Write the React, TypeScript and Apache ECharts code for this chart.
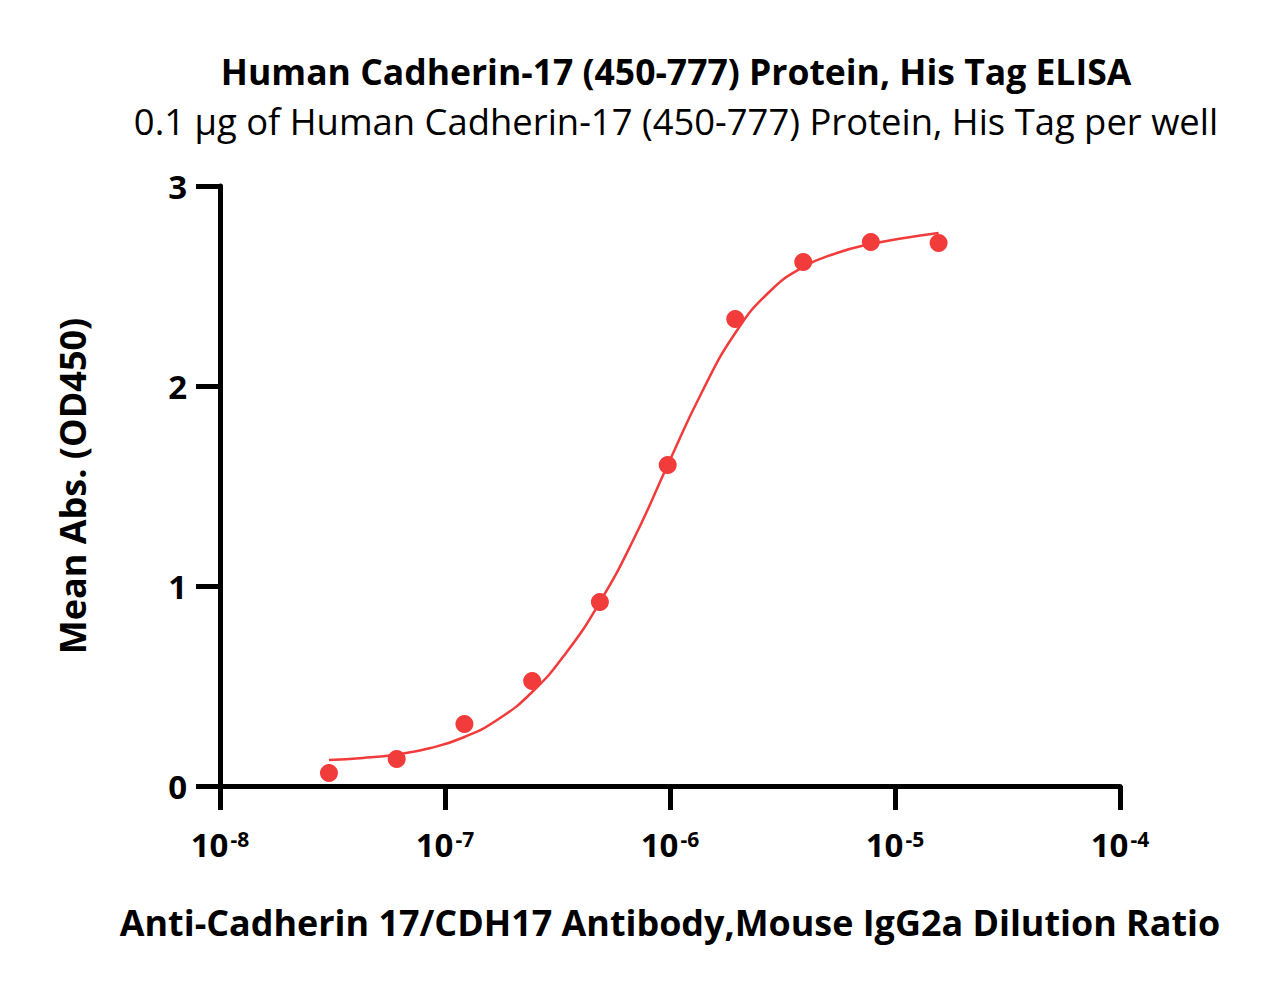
import React, { useEffect, useRef } from "react";
import * as echarts from "echarts";

// Dilution ratios of the antibody (two-fold series)
const dilutions = [3.05e-8, 6.1e-8, 1.22e-7, 2.44e-7, 4.88e-7, 9.77e-7, 1.95e-6, 3.91e-6, 7.81e-6, 1.5625e-5];
// Mean absorbance at 450 nm for each dilution
const meanAbs = [0.065, 0.135, 0.31, 0.525, 0.92, 1.605, 2.335, 2.62, 2.72, 2.715];

// Fitted curve, sampled along the dilution range
const curveX = [
  3.05e-8, 4.32e-8, 6.1e-8, 8.63e-8, 1.22e-7, 1.73e-7, 2.44e-7, 3.45e-7, 4.88e-7, 6.9e-7,
  9.77e-7, 1.38e-6, 1.95e-6, 2.76e-6, 3.91e-6, 5.52e-6, 7.81e-6, 1.1e-5, 1.5625e-5,
];
const curveY = [
  0.13, 0.14, 0.158, 0.19, 0.245, 0.335, 0.47, 0.665, 0.92, 1.235,
  1.605, 1.965, 2.265, 2.47, 2.595, 2.665, 2.71, 2.74, 2.765,
];

const yTicks = [0, 1, 2, 3];

const titleText = "Human Cadherin-17 (450-777) Protein, His Tag ELISA";
const subtitleText = "0.1 μg of Human Cadherin-17 (450-777) Protein, His Tag per well";
const xName = "Anti-Cadherin 17/CDH17 Antibody,Mouse IgG2a Dilution Ratio";
const yName = "Mean Abs. (OD450)";

const RED = "#F23B3B";
const FONT = "Open Sans";

export default function App() {
  const ref = useRef<HTMLDivElement>(null);

  useEffect(() => {
    if (!ref.current) return;
    const chart = echarts.init(ref.current, null, { renderer: "svg" });
    chart.setOption({
      animation: false,
      backgroundColor: "#ffffff",
      textStyle: { fontFamily: FONT },
      title: [
        {
          text: titleText,
          left: 671,
          top: 48,
          textAlign: "center",
          textStyle: { fontFamily: FONT, fontWeight: "bold", fontSize: 35.5, color: "#000" },
        },
        {
          text: subtitleText,
          left: 671,
          top: 98,
          textAlign: "center",
          textStyle: { fontFamily: FONT, fontWeight: "normal", fontSize: 36.4, color: "#000" },
        },
      ],
      grid: { left: 220, right: 145, top: 186, bottom: 207, containLabel: false },
      xAxis: {
        type: "log",
        logBase: 10,
        min: 1e-8,
        max: 1e-4,
        name: xName,
        nameLocation: "middle",
        nameGap: 118,
        nameTextStyle: { fontFamily: FONT, fontWeight: "bold", fontSize: 35.9, color: "#000" },
        axisLine: { show: true, lineStyle: { color: "#000", width: 5 } },
        axisTick: { show: true, length: 24, lineStyle: { color: "#000", width: 5 } },
        minorTick: { show: false },
        splitLine: { show: false },
        axisLabel: {
          margin: 42,
          formatter: (v: number) => `{b|10}{s|${Math.round(Math.log10(v))}}`,
          rich: {
            b: { fontFamily: FONT, fontWeight: "bold", fontSize: 33, color: "#000" },
            s: { fontFamily: FONT, fontWeight: "bold", fontSize: 21, color: "#000", verticalAlign: "top", padding: [0, 0, 12, 2] },
          },
        },
      },
      yAxis: {
        type: "value",
        min: 0,
        max: 3,
        interval: 1,
        name: yName,
        nameLocation: "middle",
        nameGap: 130,
        nameTextStyle: { fontFamily: FONT, fontWeight: "bold", fontSize: 36, color: "#000" },
        axisLine: { show: true, lineStyle: { color: "#000", width: 5 } },
        axisTick: { show: true, length: 24, lineStyle: { color: "#000", width: 5 } },
        splitLine: { show: false },
        axisLabel: {
          margin: 33,
          fontFamily: FONT,
          fontWeight: "bold",
          fontSize: 33,
          color: "#000",
          formatter: (v: number) => (yTicks.includes(v) ? String(v) : ""),
        },
      },
      series: [
        {
          type: "line",
          data: curveX.map((x, i) => [x, curveY[i]]),
          smooth: 0.5,
          showSymbol: false,
          symbol: "none",
          lineStyle: { color: RED, width: 2.5 },
          z: 2,
        },
        {
          type: "scatter",
          data: dilutions.map((x, i) => [x, meanAbs[i]]),
          symbol: "circle",
          symbolSize: 18,
          itemStyle: { color: RED, opacity: 1 },
          z: 3,
        },
      ],
    });
    return () => chart.dispose();
  }, []);

  return <div ref={ref} style={{ width: 1265, height: 993, position: "absolute", left: 0, top: 0 }} />;
}
